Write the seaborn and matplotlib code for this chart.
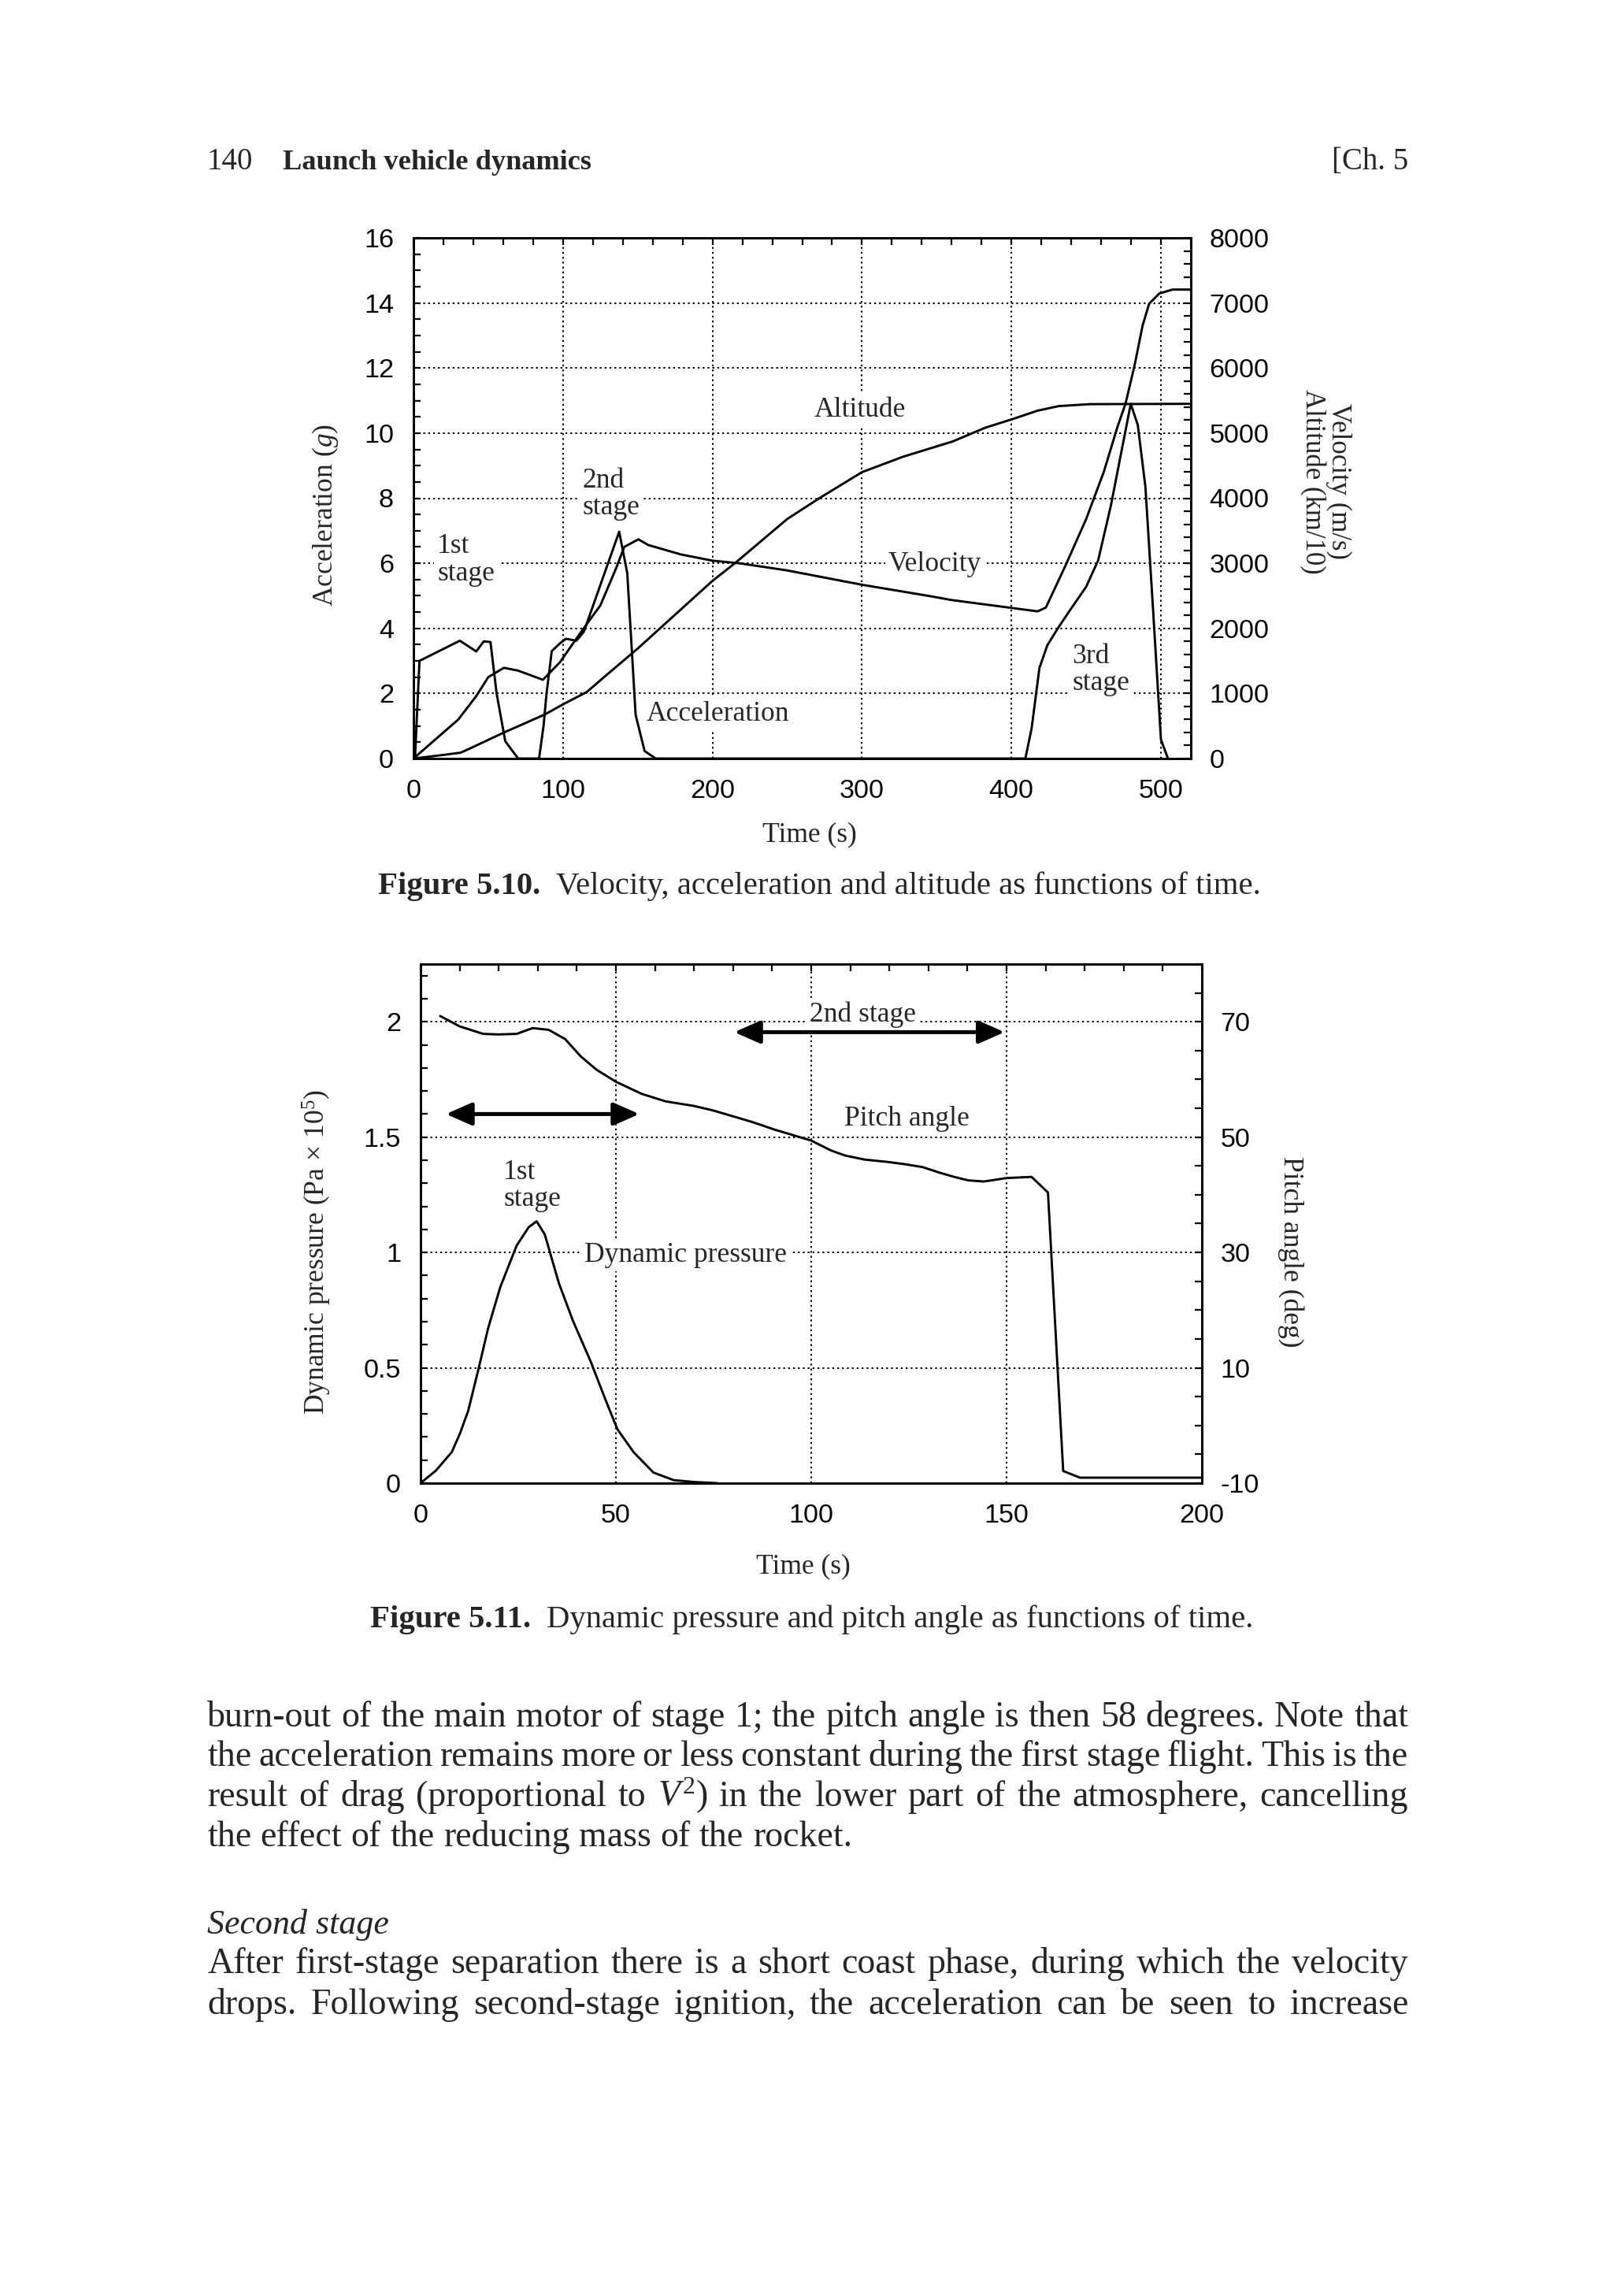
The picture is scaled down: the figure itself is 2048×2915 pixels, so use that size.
import matplotlib
matplotlib.use("Agg")
import matplotlib.pyplot as plt
from matplotlib.ticker import MultipleLocator
import seaborn as sns

W, H, DPI = 2048, 2915, 200

# ---- Figure 5.10 data ----
acc_t = [0, 1, 4, 31, 42, 47, 51.5, 55.6, 61.4, 70, 84, 87, 89, 92.5, 98, 102, 109, 114,
         137.6, 143, 148.6, 154.6, 162, 409.3, 413.5, 418.7, 424, 431, 439.5, 450, 458,
         466.5, 472.4, 479.8, 484.5, 489.6, 494.8, 500, 504.7]
acc_g = [0, 0, 3.0, 3.62, 3.29, 3.6, 3.58, 2.0, 0.53, 0, 0, 1.0, 2.0, 3.3, 3.54, 3.68, 3.62, 3.9,
         6.97, 5.7, 1.34, 0.23, 0, 0, 0.93, 2.78, 3.48, 4.0, 4.58, 5.28, 6.09,
         7.77, 9.16, 10.9, 10.25, 8.35, 4.52, 0.58, 0]

vel_t = [0, 15, 30, 42, 50, 60.5, 70, 86.6, 98, 113, 125, 135.7, 141, 150.5, 157, 178.8,
         200, 218, 250, 300, 345, 360, 417.5, 423, 436, 450, 461.8, 471, 476.3, 482.5,
         487.7, 492.1, 499, 507.9, 520]
vel_ms = [0, 300, 600, 960, 1250, 1394, 1350, 1210, 1481, 1974, 2352, 2932, 3252, 3368, 3281, 3136,
          3040, 3000, 2890, 2670, 2497, 2435, 2261, 2319, 2957, 3681, 4406, 5101, 5452, 6056,
          6651, 6988, 7147, 7206, 7206]

alt_t = [0, 20, 31.6, 38.6, 59.6, 87.7, 100.4, 115.8, 130, 150, 200, 215, 250, 271.5, 300,
         327.6, 360.5, 382.5, 400, 417.5, 431.6, 452.6, 520]
alt_km10 = [0, 55, 90, 163, 390, 675, 837, 1020, 1300, 1690, 2730, 3000, 3680, 4000, 4400,
            4638, 4870, 5083, 5210, 5345, 5415, 5445, 5450]

# ---- Figure 5.11 data ----
q_t = [0, 3.9, 8, 10.1, 12.2, 14.8, 17.3, 20.4, 24.6, 27.7, 29.7, 31.8, 35.4, 39, 43.6,
       47.3, 50.4, 54.5, 59.6, 64.8, 70, 76]
q_pa = [0, 0.054, 0.135, 0.216, 0.314, 0.493, 0.672, 0.85, 1.03, 1.11, 1.135, 1.078, 0.867,
        0.704, 0.525, 0.363, 0.233, 0.135, 0.046, 0.013, 0.005, 0]

pitch_t = [5, 10, 16, 20, 24.6, 28.7, 32.8, 37, 41, 45, 50, 56.6, 62.7, 70, 75, 80, 85, 90.6,
           100, 105, 108.7, 113.7, 119.5, 124, 128.5, 133, 136.6, 140.2, 144.2, 150, 156.4,
           160.6, 164.5, 168.8, 200]
pitch_deg = [71, 69.2, 67.9, 67.8, 67.9, 68.9, 68.6, 67.0, 64.0, 61.7, 59.6, 57.5, 56.2, 55.4,
             54.6, 53.6, 52.6, 51.3, 49.4, 47.7, 46.8, 46.1, 45.7, 45.3, 44.8, 43.8, 43.1,
             42.5, 42.3, 42.9, 43.1, 40.4, -7.9, -9.05, -9.05]

# ---- page text ----
body_lines = [
    "burn-out of the main motor of stage 1; the pitch angle is then 58 degrees. Note that",
    "the acceleration remains more or less constant during the first stage flight. This is the",
    "result of drag (proportional to $V^2$) in the lower part of the atmosphere, cancelling",
    "the effect of the reducing mass of the rocket.",
]
heading = "Second stage"
body_lines2 = [
    "After first-stage separation there is a short coast phase, during which the velocity",
    "drops. Following second-stage ignition, the acceleration can be seen to increase",
]

SERIF = ["Liberation Serif", "DejaVu Serif"]
SANS = ["Liberation Sans", "DejaVu Sans"]
LW = 1.05
TXT = 12.8
TICK = 12.3

sns.set_theme(style="white", rc={
    "axes.edgecolor": "black", "axes.linewidth": 1.0,
    "xtick.direction": "in", "ytick.direction": "in",
    "xtick.color": "black", "ytick.color": "black",
})
plt.rcParams["font.family"] = SANS
plt.rcParams["axes.unicode_minus"] = False
plt.rcParams["mathtext.fontset"] = "custom"
plt.rcParams["mathtext.rm"] = "Liberation Serif"
plt.rcParams["mathtext.it"] = "Liberation Serif:italic"

fig = plt.figure(figsize=(W / DPI, H / DPI), dpi=DPI)
renderer = fig.canvas.get_renderer()


def box(l, t, r, b):
    return [l / W, 1 - b / H, (r - l) / W, (b - t) / H]


def style(ax, axr, xmaj, xmin, ymin, rmin):
    ax.xaxis.set_major_locator(MultipleLocator(xmaj))
    ax.xaxis.set_minor_locator(MultipleLocator(xmin))
    ax.yaxis.set_minor_locator(MultipleLocator(ymin))
    axr.yaxis.set_minor_locator(MultipleLocator(rmin))
    ax.tick_params(which="both", direction="in", length=3.3, width=0.8, top=True,
                   right=False, labelsize=TICK, color="black")
    ax.tick_params(axis="x", pad=9.5)
    ax.tick_params(axis="y", pad=9)
    axr.tick_params(which="both", direction="in", length=3.3, width=0.8, labelsize=TICK,
                    pad=8.5, right=True, color="black")
    ax.grid(True, which="major", color="black", lw=0.7, ls=(0, (1.2, 2.0)))
    ax.set_xlabel("")
    ax.set_ylabel("")
    axr.set_ylabel("")


def note(ax, x, y, s, ha="center"):
    ax.text(x, y, s, ha=ha, va="center", fontsize=TXT, family=SERIF, linespacing=1.05,
            zorder=1.5, bbox=dict(facecolor="white", edgecolor="none", pad=1.5))


# ---------- Figure 5.10 ----------
ax1 = fig.add_axes(box(525, 302, 1512, 963))
ax1r = ax1.twinx()
sns.lineplot(x=acc_t, y=acc_g, ax=ax1, color="black", lw=LW, estimator=None, sort=False,
             errorbar=None)
sns.lineplot(x=vel_t, y=vel_ms, ax=ax1r, color="black", lw=LW, estimator=None, sort=False,
             errorbar=None)
sns.lineplot(x=alt_t, y=alt_km10, ax=ax1r, color="black", lw=LW, estimator=None, sort=False,
             errorbar=None)
ax1.set_xlim(0, 520)
ax1.set_ylim(0, 16)
ax1r.set_ylim(0, 8000)
ax1.set_xticks(range(0, 501, 100))
ax1.set_yticks(range(0, 17, 2))
ax1r.set_yticks(range(0, 8001, 1000))
style(ax1, ax1r, 100, 20, 0.5, 200)

note(ax1, 298.5, 10.7, "Altitude")
note(ax1, 113, 8.13, "2nd\nstage", ha="left")
note(ax1, 16, 6.1, "1st\nstage", ha="left")
note(ax1, 348.8, 5.97, "Velocity")
note(ax1, 440.6, 2.72, "3rd\nstage", ha="left")
note(ax1, 203.5, 1.37, "Acceleration")

fig.text(413 / W, 1 - 654 / H, "Acceleration ($g$)", rotation=90, ha="center", va="center",
         fontsize=TXT, family=SERIF)
fig.text(1683 / W, 1 - 611 / H, "Velocity (m/s)\nAltitude (km/10)", rotation=270,
         ha="center", va="center", ma="center", fontsize=12.5, family=SERIF, linespacing=1.0)
fig.text(1028 / W, 1 - 1060 / H, "Time (s)", ha="center", va="center", fontsize=TXT,
         family=SERIF)

# ---------- Figure 5.11 ----------
ax2 = fig.add_axes(box(534, 1224, 1526, 1883))
ax2r = ax2.twinx()
sns.lineplot(x=q_t, y=q_pa, ax=ax2, color="black", lw=LW, estimator=None, sort=False,
             errorbar=None)
sns.lineplot(x=pitch_t, y=pitch_deg, ax=ax2r, color="black", lw=LW, estimator=None,
             sort=False, errorbar=None)
ax2.set_xlim(0, 200)
ax2.set_ylim(0, 2.25)
ax2r.set_ylim(-10, 80)
ax2.set_xticks([0, 50, 100, 150, 200])
ax2.set_yticks([0, 0.5, 1, 1.5, 2], ["0", "0.5", "1", "1.5", "2"])
ax2r.set_yticks([-10, 10, 30, 50, 70])
style(ax2, ax2r, 50, 10, 0.1, 5)

arrow = dict(arrowstyle="<|-|>,head_length=0.5,head_width=0.22", lw=1.8, color="black",
             shrinkA=0, shrinkB=0, mutation_scale=20)
ax2.annotate("", xy=(56, 1.6), xytext=(6.5, 1.6), arrowprops=arrow, zorder=3)
ax2.annotate("", xy=(149.5, 1.955), xytext=(80.3, 1.955), arrowprops=arrow, zorder=3)

note(ax2, 113.3, 2.03, "2nd stage")
note(ax2, 124.5, 1.58, "Pitch angle")
note(ax2, 21.2, 1.29, "1st\nstage", ha="left")
note(ax2, 41.9, 0.99, "Dynamic pressure", ha="left")

fig.text(402 / W, 1 - 1590 / H, r"Dynamic pressure (Pa $\times$ 10$^5$)", rotation=90,
         ha="center", va="center", fontsize=TXT, family=SERIF)
fig.text(1639 / W, 1 - 1589 / H, "Pitch angle (deg)", rotation=270, ha="center",
         va="center", fontsize=TXT, family=SERIF)
fig.text(1020 / W, 1 - 1989 / H, "Time (s)", ha="center", va="center", fontsize=TXT,
         family=SERIF)


# ---------- page text ----------
def width(t):
    return t.get_window_extent(renderer).width


def put(x, y, s, size, **kw):
    return fig.text(x / W, 1 - y / H, s, fontsize=size, family=SERIF, va="baseline",
                    ha="left", **kw)


def caption(cx, y, num, rest, size=14.7):
    b = put(0, y, num, size, weight="bold")
    r = put(0, y, rest, size)
    gap = 20
    total = width(b) + gap + width(r)
    x0 = cx - total / 2
    b.set_position((x0 / W, 1 - y / H))
    r.set_position(((x0 + width(b) + gap) / W, 1 - y / H))


def line(y, s, x0=263, x1=1788, justify=True, size=16.5, **kw):
    words = s.split(" ")
    texts = [put(0, y, w, size, **kw) for w in words]
    ws = [width(t) for t in texts]
    gap = (x1 - x0 - sum(ws)) / (len(words) - 1) if justify else size * DPI / 72 * 0.25
    x = x0
    for t, w in zip(texts, ws):
        t.set_position((x / W, 1 - y / H))
        x += w + gap


put(263, 215, "140", 14)
put(359, 215, "Launch vehicle dynamics", 13.1, weight="bold")
fig.text(1788 / W, 1 - 215 / H, "[Ch. 5", fontsize=14, family=SERIF, va="baseline", ha="right")

caption(1040, 1135, "Figure 5.10.", "Velocity, acceleration and altitude as functions of time.")
caption(1031, 2066, "Figure 5.11.", "Dynamic pressure and pitch angle as functions of time.")

for i, s in enumerate(body_lines):
    line(2192 + i * 50.5, s, justify=(i < len(body_lines) - 1))
put(263, 2455, heading, 15.8, style="italic")
for i, s in enumerate(body_lines2):
    line(2505 + i * 52, s)

fig.savefig("out.png", dpi=DPI, facecolor="white")
